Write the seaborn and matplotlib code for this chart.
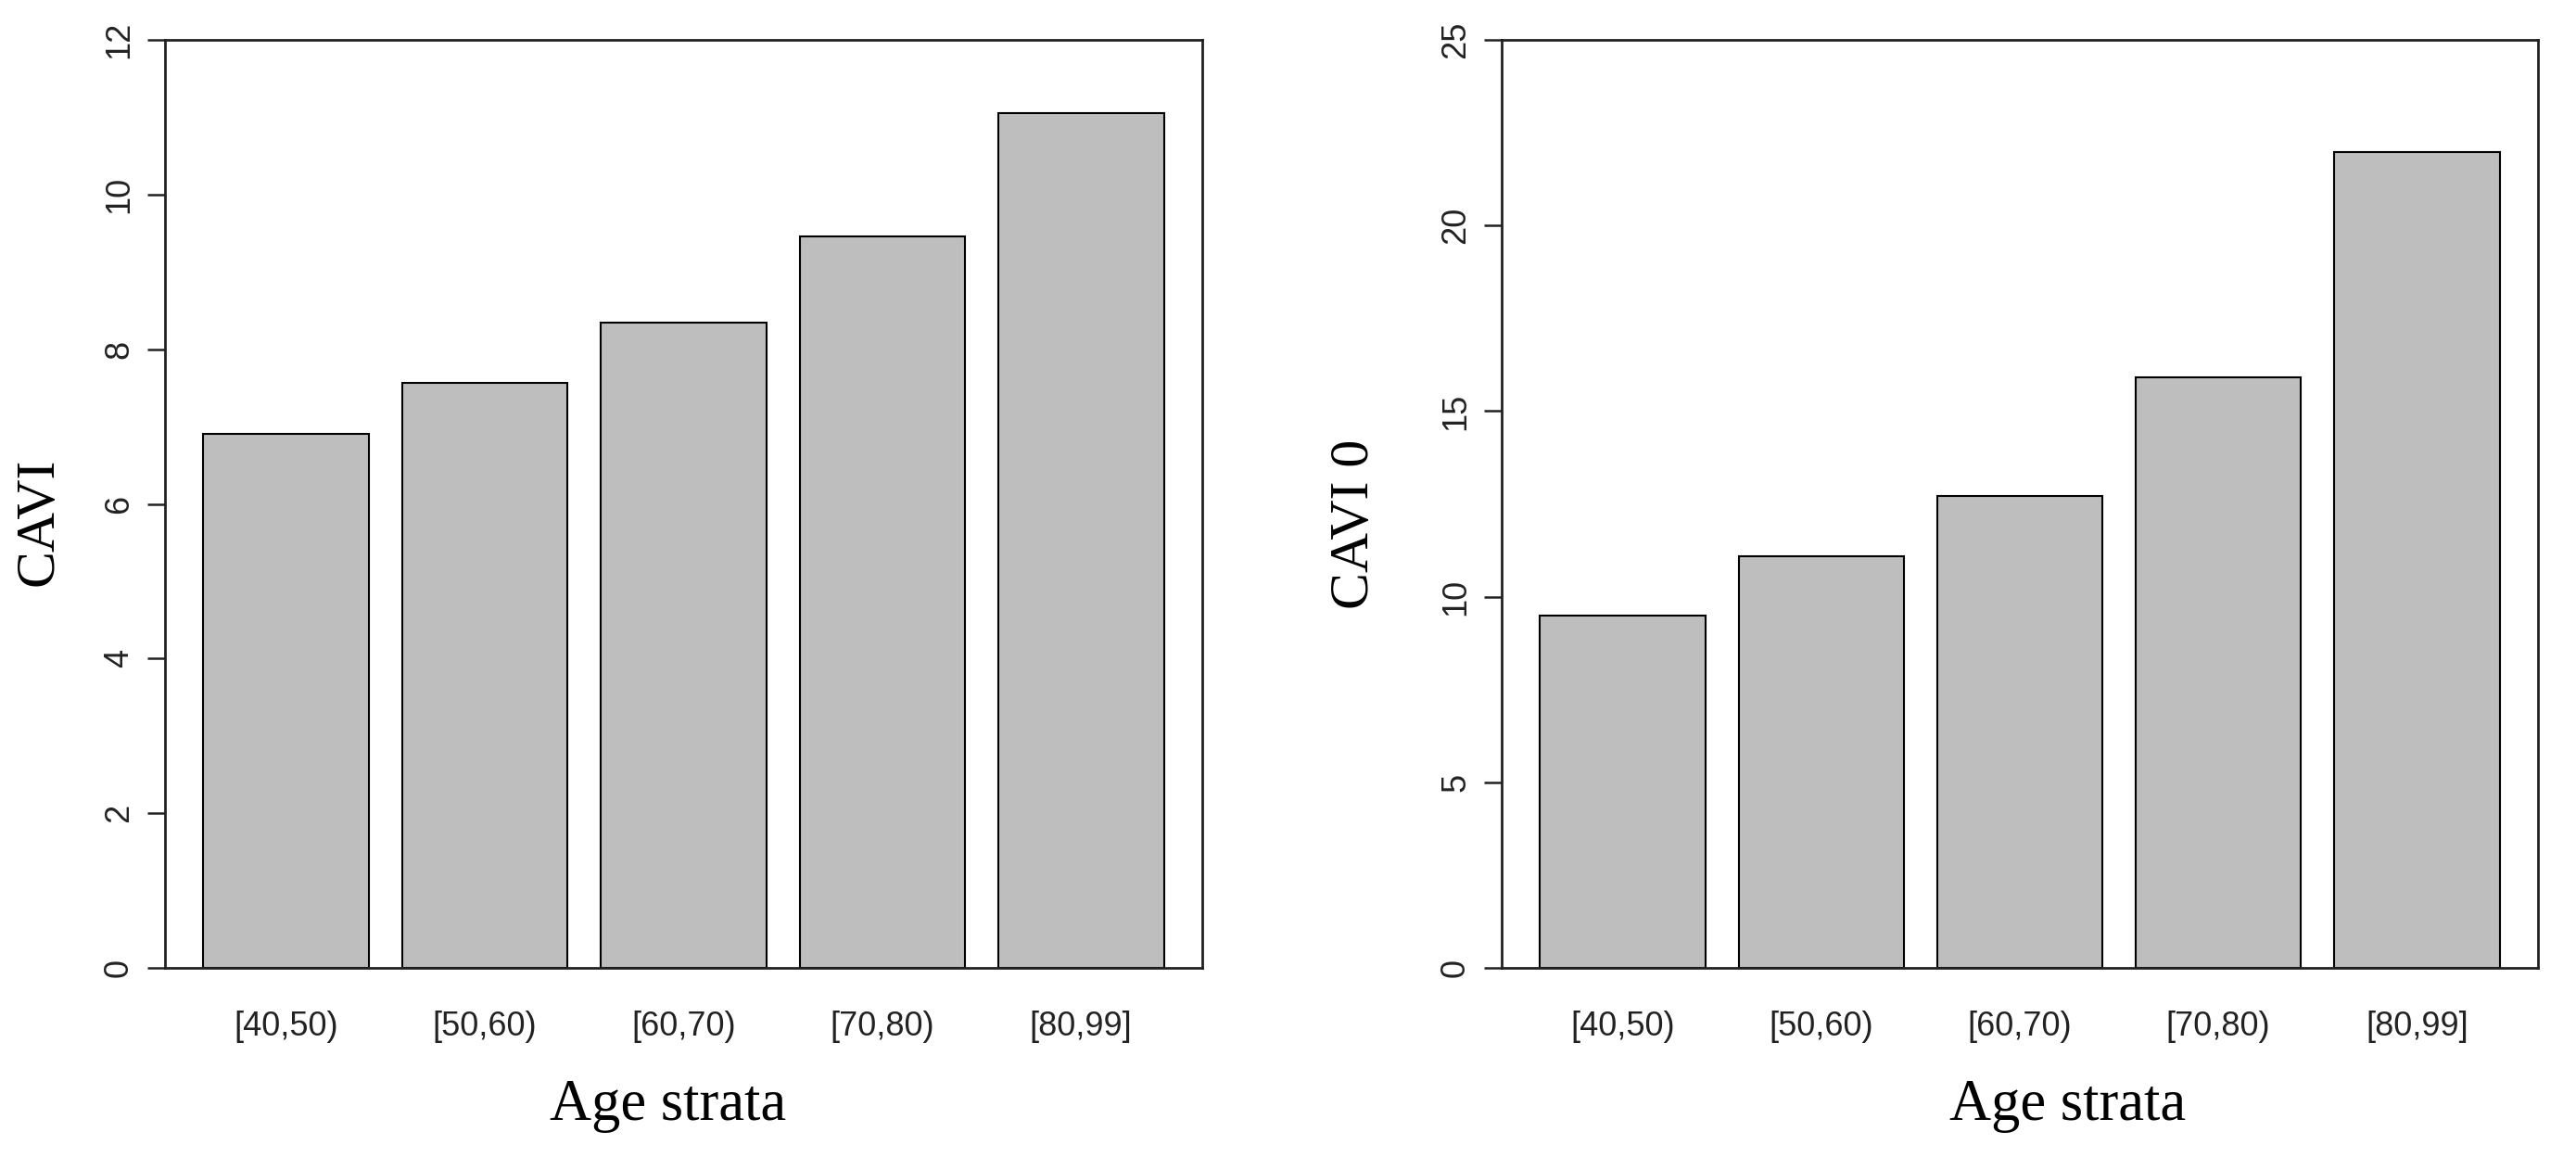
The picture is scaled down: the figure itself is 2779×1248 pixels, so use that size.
import matplotlib
matplotlib.use("Agg")
import matplotlib.pyplot as plt
import seaborn as sns
import pandas as pd

categories = ["[40,50)", "[50,60)", "[60,70)", "[70,80)", "[80,99]"]
cavi_values = [6.91, 7.57, 8.34, 9.46, 11.05]
cavi0_values = [9.48, 11.10, 12.72, 15.91, 21.97]
cavi_ticks = [0, 2, 4, 6, 8, 10, 12]
cavi0_ticks = [0, 5, 10, 15, 20, 25]

sns.set_theme(style="white")
plt.rcParams["font.family"] = ["Liberation Sans", "DejaVu Sans"]

W, H = 2779, 1248
dpi = 100
fig = plt.figure(figsize=(W / dpi, H / dpi), dpi=dpi)
fig.patch.set_facecolor("white")

def fx(px):
    return px / W

def fy(py):
    return 1 - py / H

panels = [
    dict(left=178, right=1297, values=cavi_values, ticks=cavi_ticks, ylim=12,
         ylabel="CAVI", ylab_x=43, ylab_y=563, xlab_x=721),
    dict(left=1620, right=2738, values=cavi0_values, ticks=cavi0_ticks, ylim=25,
         ylabel="CAVI 0", ylab_x=1462, ylab_y=565, xlab_x=2231),
]
top, bottom = 43, 1044

for p in panels:
    ax = fig.add_axes([fx(p["left"]), fy(bottom), (p["right"] - p["left"]) / W,
                       (bottom - top) / H])
    df = pd.DataFrame({"age": categories, "val": p["values"]})
    sns.barplot(data=df, x="age", y="val", order=categories, color="#BEBEBE",
                saturation=1, width=1 / 1.2, edgecolor="black", linewidth=1.5,
                ax=ax)
    for patch in ax.patches:
        patch.set_facecolor("#BEBEBE")
    ax.set_xlim(-0.61, 4.61)
    ax.set_ylim(0, p["ylim"])
    ax.set_yticks(p["ticks"])
    ax.set_yticklabels([str(t) for t in p["ticks"]], rotation=90, va="center",
                       fontsize=26, color="#222222")
    ax.tick_params(axis="y", left=True, length=14, width=1.8, pad=9,
                   color="#222222")
    ax.tick_params(axis="x", bottom=False, length=0, pad=33, labelsize=26,
                   labelcolor="#222222")
    ax.set_xlabel("")
    ax.set_ylabel("")
    for s in ax.spines.values():
        s.set_visible(True)
        s.set_color("#222222")
        s.set_linewidth(2.0)
    fig.text(fx(p["ylab_x"]), fy(p["ylab_y"]), p["ylabel"], rotation=90,
             ha="center", va="center", fontsize=43, family="Liberation Serif",
             color="black")
    fig.text(fx(p["xlab_x"]), fy(1208), "Age strata", ha="center",
             va="baseline", fontsize=45, family="Liberation Serif", color="black")

fig.savefig("out.png", dpi=dpi, facecolor="white")
